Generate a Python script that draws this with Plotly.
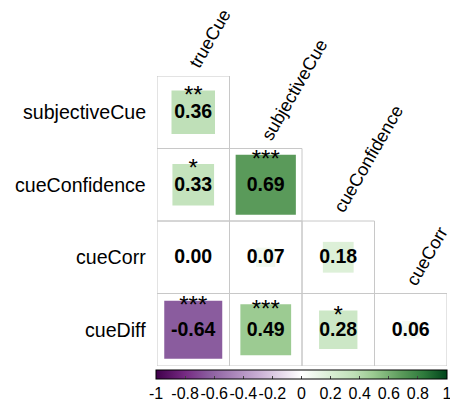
import numpy as np
import plotly.graph_objects as go

# ---------------- data ----------------
row_labels = ["subjectiveCue", "cueConfidence", "cueCorr", "cueDiff"]
col_labels = ["trueCue", "subjectiveCue", "cueConfidence", "cueCorr"]

corr_subjectiveCue = [0.36]
corr_cueConfidence = [0.33, 0.69]
corr_cueCorr = [0.00, 0.07, 0.18]
corr_cueDiff = [-0.64, 0.49, 0.28, 0.06]

sig_subjectiveCue = ["**"]
sig_cueConfidence = ["*", "***"]
sig_cueCorr = ["", "", ""]
sig_cueDiff = ["***", "***", "*", ""]

corr_rows = [corr_subjectiveCue, corr_cueConfidence, corr_cueCorr, corr_cueDiff]
sig_rows = [sig_subjectiveCue, sig_cueConfidence, sig_cueCorr, sig_cueDiff]

cbar_ticks = [-1, -0.8, -0.6, -0.4, -0.2, 0, 0.2, 0.4, 0.6, 0.8, 1]
cbar_ticktext = ["-1", "-0.8", "-0.6", "-0.4", "-0.2", "0", "0.2", "0.4", "0.6", "0.8", "1"]

# ---------------- layout geometry ----------------
W, H = 450, 406
ML, MR, MT, MB = 157, 3, 76, 40
plot_w = W - ML - MR
plot_h = H - MT - MB
ncol = len(col_labels)
nrow = len(row_labels)
cell_px = plot_w / ncol

colorscale = [
    [0.00, "#40004B"],
    [0.10, "#762A83"],
    [0.18, "#8A5C9E"],
    [0.35, "#C8ADD3"],
    [0.50, "#FFFFFF"],
    [0.59, "#DDF0D8"],
    [0.68, "#BFE0B8"],
    [0.745, "#9CCB92"],
    [0.845, "#5A9A5A"],
    [0.92, "#2E7A3C"],
    [1.00, "#00441B"],
]

xs, ys, vals, sizes, labels, star_x, star_y, stars = [], [], [], [], [], [], [], []
for r, row in enumerate(corr_rows):
    for c, v in enumerate(row):
        xs.append(c)
        ys.append(r)
        vals.append(v)
        sizes.append(np.sqrt(abs(v)) * cell_px)
        labels.append("<b>%.2f</b>" % v)
        s = sig_rows[r][c]
        if s:
            star_x.append(c)
            star_y.append(r - np.sqrt(abs(v)) / 2 + 0.09)
            stars.append(s)

FONT = "Liberation Sans, Arial, Helvetica, sans-serif"

fig = go.Figure()

# squares
fig.add_trace(go.Scatter(
    x=xs, y=ys, mode="markers",
    marker=dict(
        symbol="square", size=sizes, color=vals, colorscale=colorscale,
        cmin=-1, cmax=1, line=dict(width=0), opacity=1,
        showscale=True,
        colorbar=dict(
            orientation="h", xref="paper",
            x=((156 + 447) / 2 - ML) / plot_w, xanchor="center",
            y=(plot_h - (370 - MT)) / plot_h, yanchor="top",
            len=291, lenmode="pixels", thickness=9,
            xpad=0, ypad=0,
            outlinecolor="black", outlinewidth=1,
            tickvals=cbar_ticks, ticktext=cbar_ticktext, tickangle=0,
            ticks="inside", ticklen=3, tickcolor="#444",
            ticklabeloverflow="allow",
            tickfont=dict(size=16, color="black", family=FONT),
        ),
    ),
    hoverinfo="skip", showlegend=False,
))

# numbers
fig.add_trace(go.Scatter(
    x=xs, y=[y + 0.015 for y in ys], mode="text", text=labels,
    textfont=dict(size=19.5, color="black", family=FONT),
    textposition="middle center", hoverinfo="skip", showlegend=False,
))

# significance stars
fig.add_trace(go.Scatter(
    x=star_x, y=star_y, mode="text", text=stars,
    textfont=dict(size=24, color="black", family=FONT),
    textposition="middle center", hoverinfo="skip", showlegend=False,
))

# cell borders
for r in range(nrow):
    for c in range(r + 1):
        fig.add_shape(type="rect", xref="x", yref="y",
                      x0=c - 0.5, x1=c + 0.5, y0=r - 0.5, y1=r + 0.5,
                      line=dict(color="#C8C8C8", width=1), layer="below")

annotations = []
for r, lab in enumerate(row_labels):
    annotations.append(dict(
        x=0, xref="paper", y=r, yref="y", text=lab, showarrow=False,
        xanchor="right", yanchor="middle", xshift=-9,
        font=dict(size=19.6, color="black", family=FONT)))
for c, lab in enumerate(col_labels):
    annotations.append(dict(
        x=c, xref="x", y=c - 0.499, yref="y", text=lab, showarrow=False,
        xanchor="left", yanchor="bottom", textangle=-60,
        xshift=-11, yshift=2,
        font=dict(size=18, color="black", family=FONT)))

fig.update_layout(
    width=W, height=H,
    margin=dict(l=ML, r=MR, t=MT, b=MB, autoexpand=False),
    paper_bgcolor="white", plot_bgcolor="white",
    xaxis=dict(range=[-0.5, ncol - 0.5], showgrid=False, zeroline=False,
               showticklabels=False, showline=False, fixedrange=True),
    yaxis=dict(range=[nrow - 0.5, -0.5], showgrid=False, zeroline=False,
               showticklabels=False, showline=False, fixedrange=True),
    annotations=annotations,
    showlegend=False,
)

fig.write_html("out.html", config={"displayModeBar": False},
               post_script="document.body.style.margin='0';document.body.style.overflow='hidden';")
